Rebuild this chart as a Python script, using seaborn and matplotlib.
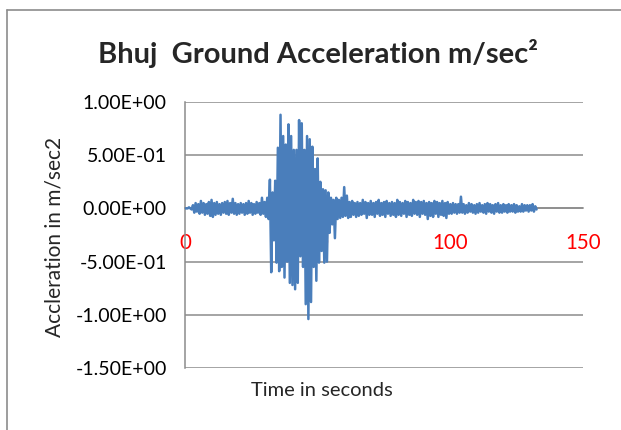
import numpy as np
import pandas as pd
import matplotlib
matplotlib.use("Agg")
import matplotlib.pyplot as plt
from matplotlib.lines import Line2D
import seaborn as sns

# ---- data (acceleration in m/sec^2, one value per 0.5 s) ----
sample_interval = 0.5
accel = [
    # 0 - 9.5 s
    0.00, 0.00, 0.00, 0.01, 0.00, -0.01, 0.03, -0.04, 0.05, -0.03,
    0.04, -0.05, 0.07, -0.04, 0.05, -0.06, 0.04, -0.05, 0.06, -0.07,
    # 10 - 19.5 s
    0.08, -0.08, 0.05, -0.06, 0.06, -0.05, 0.04, -0.06, 0.05, -0.04,
    0.06, -0.05, 0.07, -0.06, 0.05, -0.04, 0.09, -0.05, 0.05, -0.06,
    # 20 - 29.5 s
    0.04, -0.05, 0.05, -0.04, 0.04, -0.06, 0.05, -0.05, 0.07, -0.04,
    0.05, -0.06, 0.04, -0.05, 0.06, -0.04, 0.05, -0.06, 0.10, -0.05,
    # 30 - 39.5 s
    0.06, -0.08, 0.10, -0.10, 0.27, -0.60, 0.15, -0.30, 0.26, -0.51,
    0.57, -0.59, 0.88, -0.55, 0.68, -0.65, 0.60, -0.50, 0.79, -0.70,
    # 40 - 49.5 s
    0.68, -0.72, 0.55, -0.76, 0.55, -0.70, 0.83, -0.45, 0.80, -0.55,
    0.55, -0.90, 0.68, -1.04, 0.65, -0.88, 0.58, -0.55, 0.37, -0.68,
    # 50 - 59.5 s
    0.47, -0.51, 0.25, -0.40, 0.18, -0.51, 0.17, -0.50, 0.15, -0.23,
    0.10, -0.15, 0.08, -0.28, 0.10, -0.10, 0.08, -0.09, 0.10, -0.08,
    # 60 - 69.5 s
    0.20, -0.07, 0.12, -0.09, 0.06, -0.08, 0.07, -0.06, 0.05, -0.08,
    0.06, -0.07, 0.05, -0.06, 0.08, -0.05, 0.06, -0.09, 0.05, -0.06,
    # 70 - 79.5 s
    0.07, -0.06, 0.05, -0.08, 0.06, -0.05, 0.08, -0.07, 0.05, -0.06,
    0.06, -0.08, 0.07, -0.05, 0.05, -0.07, 0.06, -0.06, 0.05, -0.08,
    # 80 - 89.5 s
    0.08, -0.06, 0.06, -0.07, 0.05, -0.05, 0.07, -0.08, 0.06, -0.06,
    0.05, -0.07, 0.08, -0.05, 0.06, -0.06, 0.07, -0.08, 0.06, -0.05,
    # 90 - 99.5 s
    0.07, -0.06, 0.05, -0.10, 0.06, -0.07, 0.05, -0.08, 0.07, -0.05,
    0.06, -0.08, 0.05, -0.06, 0.07, -0.07, 0.05, -0.09, 0.06, -0.05,
    # 100 - 109.5 s
    0.04, -0.05, 0.05, -0.04, 0.04, -0.05, 0.04, -0.04, 0.11, -0.04,
    0.04, -0.05, 0.03, -0.04, 0.05, -0.03, 0.04, -0.04, 0.03, -0.05,
    # 110 - 119.5 s
    0.04, -0.04, 0.05, -0.03, 0.03, -0.04, 0.04, -0.05, 0.05, -0.03,
    0.04, -0.04, 0.03, -0.05, 0.04, -0.03, 0.05, -0.04, 0.03, -0.04,
    # 120 - 129.5 s
    0.04, -0.03, 0.03, -0.04, 0.04, -0.03, 0.03, -0.03, 0.04, -0.04,
    0.03, -0.03, 0.02, -0.03, 0.04, -0.03, 0.03, -0.02, 0.03, -0.03,
    # 130 - 132.5 s
    0.03, -0.02, 0.04, -0.03, 0.02, -0.01,
]
time_s = np.arange(len(accel)) * sample_interval

y_ticks = [-1.5, -1.0, -0.5, 0.0, 0.5, 1.0]
y_tick_labels = ["-1.50E+00", "-1.00E+00", "-5.00E-01", "0.00E+00", "5.00E-01", "1.00E+00"]
x_ticks = [0, 50, 100, 150]
x_tick_labels = ["0", "50", "100", "150"]

title = "Bhuj  Ground Acceleration m/sec\u00b2"
x_label = "Time in seconds"
y_label = "Accleration in m/sec2"

df = pd.DataFrame({"time": time_s, "accel": accel})

# ---- styling ----
sns.set_style("white")
plt.rcParams["font.family"] = ["Lato", "DejaVu Sans"]

W, H = 621, 430
fig = plt.figure(figsize=(W / 100, H / 100), dpi=100)
ax = fig.add_axes([185 / W, 1 - 368 / H, (583 - 185) / W, (368 - 102) / H])

grid_col = "#8b8b8b"
sns.lineplot(data=df, x="time", y="accel", ax=ax, color="#4a7ebb", lw=1.8, zorder=3)

ax.set_xlim(0, 150)
ax.set_ylim(-1.5, 1.0)
ax.set_yticks(y_ticks)
ax.set_yticklabels(y_tick_labels)
ax.set_xticks(x_ticks)
ax.set_xticklabels(x_tick_labels)
ax.yaxis.grid(True, color=grid_col, lw=1.1)
ax.xaxis.grid(False)
ax.set_axisbelow(True)

for s in ["top", "right"]:
    ax.spines[s].set_visible(False)
ax.spines["left"].set_color(grid_col)
ax.spines["left"].set_linewidth(1.1)
ax.spines["bottom"].set_position(("data", 0))
ax.spines["bottom"].set_color(grid_col)
ax.spines["bottom"].set_linewidth(1.1)

ax.tick_params(axis="y", length=0, pad=13, labelsize=14, labelcolor="black")
ax.tick_params(axis="x", length=0, pad=18, labelsize=14.8, labelcolor="#ff0000")
ax.set_xlabel("")
ax.set_ylabel("")

fig.text(55 / W, 1 - 237 / H, y_label, rotation=90, ha="center", va="center", fontsize=15)
fig.text(322 / W, 1 - 390 / H, x_label, ha="center", va="center", fontsize=14.5)
fig.text(318 / W, 1 - 53 / H, title, ha="center", va="center", fontsize=21, fontweight="bold")

# chart-area border
bc = "#8c8c8c"
fig.add_artist(Line2D([7 / W, 7 / W], [0, 1 - 10 / H], transform=fig.transFigure, color=bc, lw=1.2))
fig.add_artist(Line2D([7 / W, 1], [1 - 10 / H, 1 - 10 / H], transform=fig.transFigure, color=bc, lw=1.2))

fig.savefig("out.png", dpi=100)
